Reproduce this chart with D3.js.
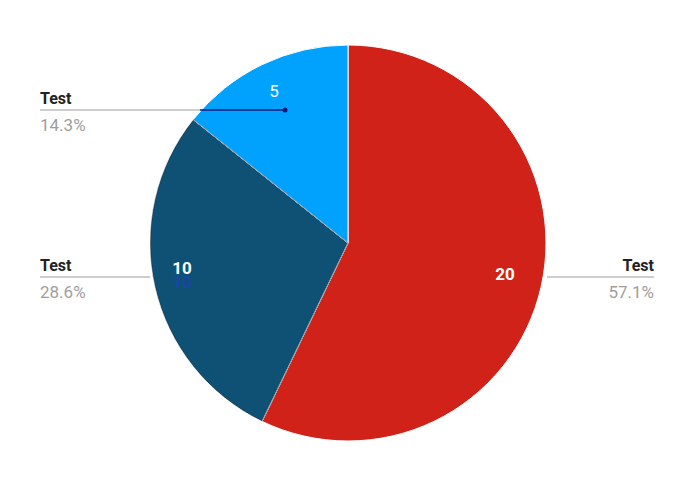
<!DOCTYPE html>
<html><head><meta charset="utf-8">
<script src="https://cdn.jsdelivr.net/npm/d3@7"></script>
<style>html,body{margin:0;padding:0;background:#fff;}svg{display:block;font-family:Roboto,"Noto Sans",sans-serif;}</style>
</head><body>
<svg id="chart" width="693" height="484"></svg>
<script>
const categories = ["Test", "Test", "Test"];
const values = [20, 10, 5];
const percentLabels = ["57.1%", "28.6%", "14.3%"];
const colors = ["#d02218", "#0f5075", "#00a2fe"];

const W = 693, H = 484;
const cx = 348, cy = 243, R = 198;
const svg = d3.select("#chart");
const g = svg.append("g").attr("transform", `translate(${cx},${cy})`);

const pie = d3.pie().sort(null).value(d => d)(values);
const arc = d3.arc().innerRadius(0).outerRadius(R);

g.selectAll("path.slice").data(pie).join("path")
  .attr("class", "slice")
  .attr("d", arc)
  .attr("fill", (d, i) => colors[i])
  .attr("stroke", "#fff").attr("stroke-width", 1);

// dark edge on the dark slice
g.append("path").attr("d", d3.arc().innerRadius(0).outerRadius(R - 0.5)(pie[1]))
  .attr("fill", "none").attr("stroke", "#111").attr("stroke-width", 0.6).attr("opacity", 0.7);

// value labels inside slices
const labelPos = [[157, 37], [-166, 31], [-74, -146]];
pie.forEach((d, i) => {
  if (i === 1) {
    g.append("text").attr("x", labelPos[i][0]).attr("y", labelPos[i][1] + 14)
      .attr("text-anchor", "middle").attr("font-size", 17).attr("font-weight", 700)
      .attr("fill", "#1a47a0").text(values[i]);
  }
  g.append("text").attr("x", labelPos[i][0]).attr("y", labelPos[i][1])
    .attr("text-anchor", "middle").attr("font-size", 17)
    .attr("font-weight", i === 2 ? 400 : 700)
    .attr("fill", "#fff").text(values[i]);
});

// outside labels
const ext = [
  {x1: 547, x2: 654, y: 277, anchor: "end", tx: 654},
  {x1: 40, x2: 150, y: 277, anchor: "start", tx: 40},
  {x1: 40, x2: 200, y: 110, anchor: "start", tx: 40}
];
ext.forEach((e, i) => {
  svg.append("line").attr("x1", e.x1).attr("x2", e.x2).attr("y1", e.y).attr("y2", e.y)
    .attr("stroke", "#9e9e9e").attr("stroke-width", 1.2);
  svg.append("text").attr("x", e.tx).attr("y", e.y - 6).attr("text-anchor", e.anchor)
    .attr("font-size", 16).attr("font-weight", 700).attr("fill", "#222").text(categories[i]);
  svg.append("text").attr("x", e.tx).attr("y", e.y + 21).attr("text-anchor", e.anchor)
    .attr("font-size", 17).attr("fill", "#9e9e9e").text(percentLabels[i]);
});
// leader into small slice
svg.append("line").attr("x1", 200).attr("x2", 285).attr("y1", 110).attr("y2", 110)
  .attr("stroke", "#0a1a7a").attr("stroke-width", 1.5);
svg.append("circle").attr("cx", 285).attr("cy", 110).attr("r", 2.5).attr("fill", "#0a1a7a");
</script>
</body></html>
